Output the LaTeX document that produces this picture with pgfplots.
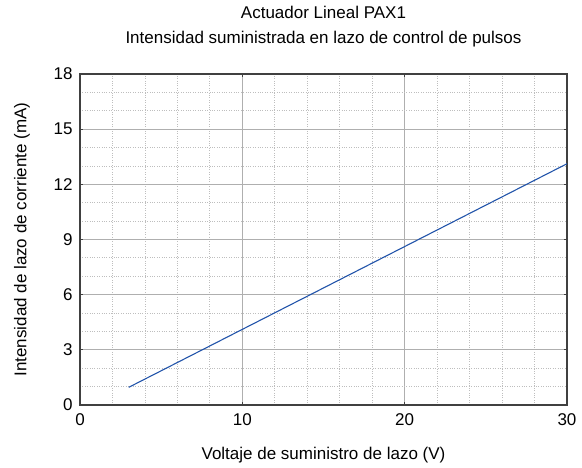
\documentclass[border=0pt]{standalone}
\usepackage{pgfplots}
\pgfplotsset{compat=1.18}
\usepackage{fontspec}
\setmainfont{Liberation Sans}
\definecolor{axcol}{RGB}{64,64,64}
\definecolor{majgrid}{RGB}{175,175,175}
\definecolor{mingrid}{RGB}{190,190,190}
\definecolor{linecol}{RGB}{34,84,170}
\begin{document}
\fontsize{17}{20}\selectfont
\begin{tikzpicture}
\useasboundingbox (0,0) rectangle (582pt,468pt);
\begin{axis}[
  at={(80pt,63pt)}, anchor=south west,
  width=487pt, height=331pt, scale only axis,
  xmin=0, xmax=30, ymin=0, ymax=18,
  xtick={0,10,20,30}, ytick={0,3,6,9,12,15,18},
  minor x tick num=4, minor y tick num=2,
  grid=both,
  major grid style={majgrid, line width=0.8pt},
  minor grid style={mingrid, dotted, line width=0.8pt},
  axis line style={axcol, line width=1.4pt},
  tick align=inside,
  major tick length=3pt, minor tick length=0pt,
  tick style={axcol, line width=0.8pt},
  /pgf/number format/assume math mode=true,
  tick label style={font=\fontsize{17}{20}\selectfont},
  xticklabel style={yshift=-3pt},
  yticklabel style={xshift=-1.5pt},
  label style={font=\fontsize{17}{20}\selectfont},
  xlabel={Voltaje de suministro de lazo (V)},
  ylabel={Intensidad de lazo de corriente (mA)},
  xlabel style={at={(axis description cs:0.5,0)}, anchor=base, yshift=-55pt},
  ylabel style={at={(axis description cs:0,0.5)}, anchor=center, yshift=58pt},
]
\addplot[linecol, line width=1.1pt] coordinates {(3,0.96) (30,13.12)};
\end{axis}
\node[anchor=base, font=\fontsize{17}{20}\selectfont] at (323.5pt,449pt) {Actuador Lineal PAX1};
\node[anchor=base, font=\fontsize{17}{20}\selectfont] at (323.5pt,424pt) {Intensidad suministrada en lazo de control de pulsos};
\end{tikzpicture}
\end{document}
